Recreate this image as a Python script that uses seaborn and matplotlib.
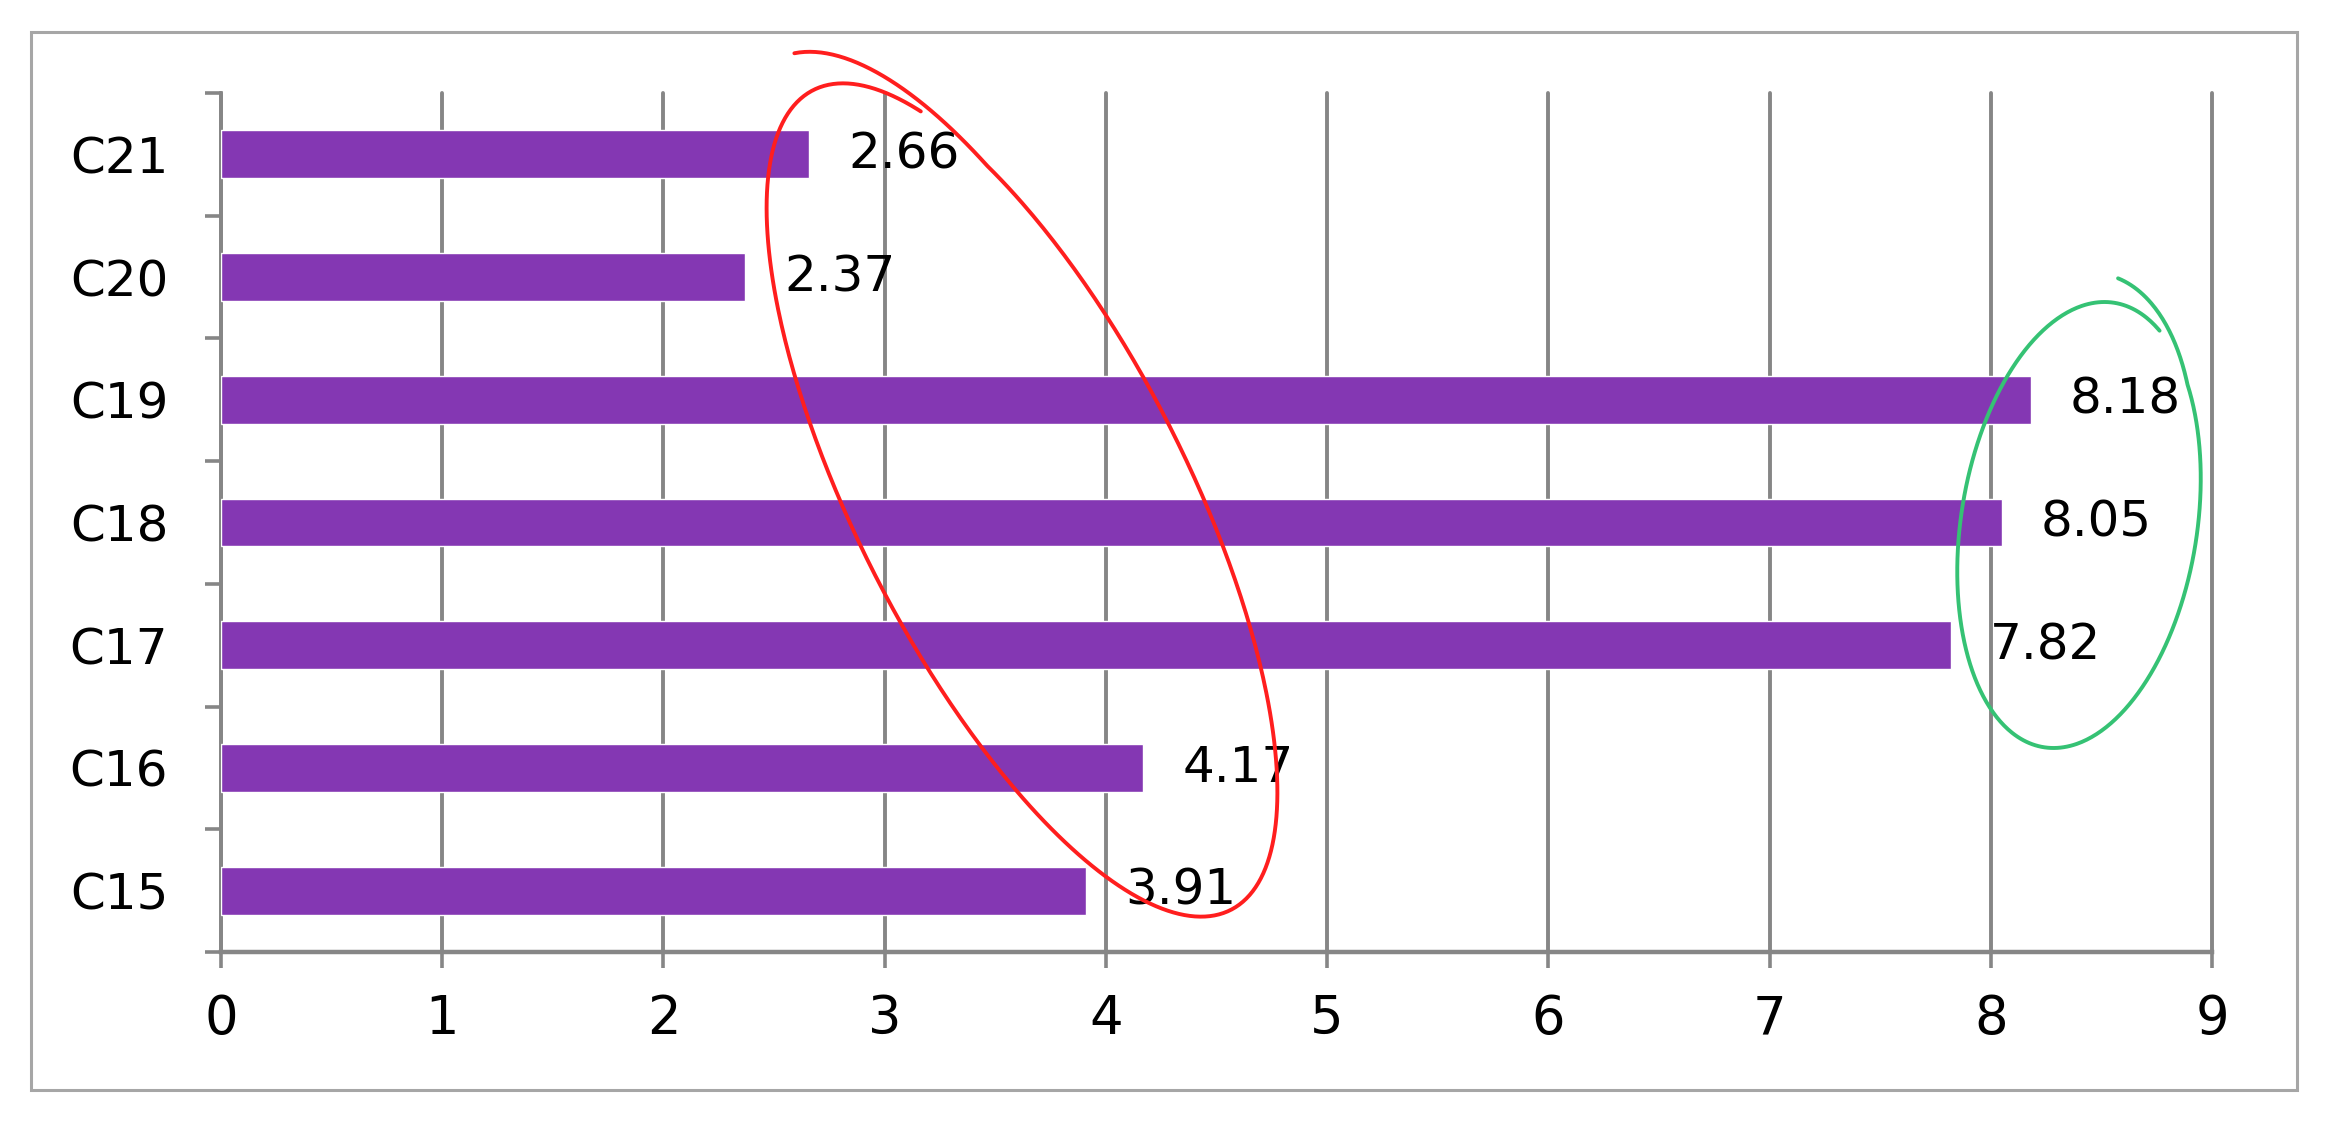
import numpy as np
import matplotlib
matplotlib.use("Agg")
import matplotlib.pyplot as plt
from matplotlib.lines import Line2D
from matplotlib.patches import Rectangle
from matplotlib.ticker import FixedLocator
import seaborn as sns

# data (top to bottom)
categories = ["C21", "C20", "C19", "C18", "C17", "C16", "C15"]
values = [2.66, 2.37, 8.18, 8.05, 7.82, 4.17, 3.91]
x_ticks = [0, 1, 2, 3, 4, 5, 6, 7, 8, 9]

W, H = 2328, 1127
BAR = "#8437B3"
GRID = "#868686"

sns.set_style("white")
plt.rcParams["font.family"] = ["DejaVu Sans"]

fig = plt.figure(figsize=(W / 100, H / 100), dpi=100)
fig.patch.set_facecolor("white")

# thin frame round the whole chart
fig.add_artist(Rectangle((31 / W, 1 - 1090 / H), (2297 - 31) / W, (1090 - 32) / H,
                         transform=fig.transFigure, fill=False,
                         edgecolor="#A6A6A6", lw=2.2))

ax = fig.add_axes([221 / W, 1 - 952 / H, (2212 - 221) / W, (952 - 93) / H])
sns.barplot(x=values, y=categories, orient="h", color=BAR, saturation=1,
            width=0.39, ax=ax, zorder=3)

ax.set_xlim(0, 9)
ax.set_ylim(len(categories) - 0.5, -0.5)
ax.set_xticks(x_ticks)
ax.set_xticklabels([str(t) for t in x_ticks])
ax.set_xlabel("")
ax.set_ylabel("")

# vertical gridlines
ax.grid(axis="x", color=GRID, lw=2.8, zorder=0)
ax.grid(axis="y", visible=False)
ax.set_axisbelow(True)
for gl in ax.get_xgridlines():
    gl.set_clip_on(False)

for side in ["top", "right"]:
    ax.spines[side].set_visible(False)
ax.spines["left"].set_color(GRID)
ax.spines["left"].set_linewidth(2.6)
ax.spines["bottom"].set_color(GRID)
ax.spines["bottom"].set_linewidth(3.2)

ax.tick_params(axis="x", direction="out", length=11.5, width=2.6, color=GRID,
               labelsize=38, labelcolor="black", pad=18, bottom=True)
# category boundary ticks on the y axis
ax.yaxis.set_minor_locator(FixedLocator(np.arange(-0.5, len(categories), 1.0)))
ax.tick_params(axis="y", which="minor", direction="out", length=11.5, width=2.6,
               color=GRID, left=True)
ax.tick_params(axis="y", which="major", length=0, labelsize=36,
               labelcolor="black", pad=38, left=True)

ax.bar_label(ax.containers[0], labels=[f"{v:.2f}" for v in values],
             padding=28, fontsize=36, color="black")


def hand_loop(cx, cy, a, b, ang_deg, t_end, lead_r, color, lead=0.12, n=500):
    # loop drawn in pixel space (y down), clockwise from the top end
    ang = np.radians(ang_deg)
    ux, uy = -np.sin(ang), -np.cos(ang)
    nx, ny = -uy, ux
    s = np.linspace(0, 1, n)
    th = s * t_end
    r = 1 + (lead_r - 1) * np.clip(1 - s / lead, 0, 1)
    px = cx + r * (a * np.cos(th) * ux + b * np.sin(th) * nx)
    py = cy + r * (a * np.cos(th) * uy + b * np.sin(th) * ny)
    fig.add_artist(Line2D(px / W, 1 - py / H, transform=fig.transFigure,
                          color=color, lw=2.8, solid_capstyle="round", zorder=10))


hand_loop(1022, 500, 460, 165, 27, 2 * np.pi + 0.55, 1.09, "#FF1E1E")
hand_loop(2079, 525, 225, 118, -9, 2 * np.pi + 0.43, 1.11, "#35C274")

fig.savefig("out.png", dpi=100, facecolor="white")
